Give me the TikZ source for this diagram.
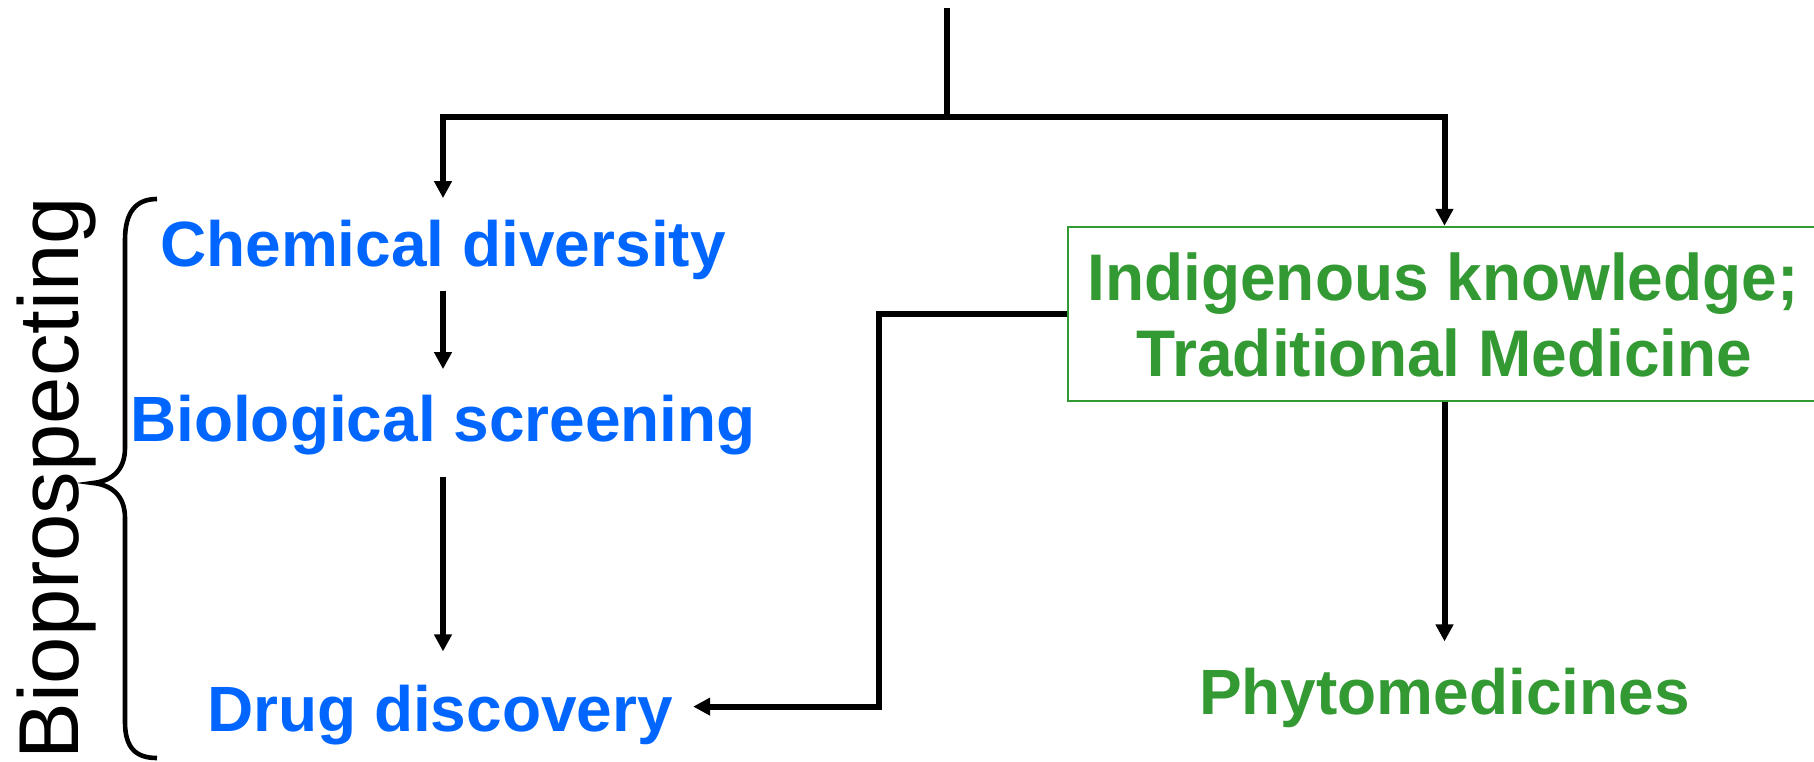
\documentclass[tikz,border=0pt]{standalone}
\usepackage{fontspec}
\setmainfont{Liberation Sans}
\usetikzlibrary{arrows.meta}

\definecolor{stepblue}{RGB}{0,102,255}
\definecolor{herbgreen}{RGB}{51,153,51}

\begin{document}
\begin{tikzpicture}[x=1pt,y=-1pt,
  bluetext/.style={font=\fontsize{64}{76}\selectfont\bfseries, text=stepblue, inner sep=0pt, anchor=base},
  greentext/.style={font=\fontsize{64}{76}\selectfont\bfseries, text=herbgreen, inner sep=0pt, anchor=base},
  link/.style={line width=6pt, line join=miter, draw=black},
  arr/.style={link, -{Triangle[length=17pt,width=17pt]}},
  tkbox/.style={draw=herbgreen, line width=1.8pt, fill=white, rectangle, inner sep=0pt}
]
\useasboundingbox (0,0) rectangle (1814,761);

% left column: bioprospecting chain
\node[bluetext] (chem) at (443,266.7) {Chemical diversity};
\node[bluetext] (bio) at (443,441.7) {Biological screening};
\node[bluetext] (drug) at (440,731) {Drug discovery};

% right column: traditional knowledge
\node[tkbox, minimum width=748pt, minimum height=174.3pt] (tk) at (1442,313.85) {};
\node[greentext, yscale=1.03] (tk1) at (1443,300) {Indigenous knowledge;};
\node[greentext, yscale=1.03] (tk2) at (1444.5,376.7) {Traditional Medicine};
\node[greentext] (phyto) at (1444.5,714) {Phytomedicines};

% bracket label
\node[font=\fontsize{85}{100}\selectfont, rotate=90, anchor=base, inner sep=0pt] (bp) at (78,478.5) {Bioprospecting};
\draw[line width=4.6pt] (157,199) .. controls (136,199) and (125,212) .. (125,240)
  -- (125,448) .. controls (125,470) and (112,481) .. (93,483)
  .. controls (112,485) and (125,496) .. (125,518)
  -- (125,722) .. controls (125,748) and (136,758) .. (157,758);

% top split
\coordinate (src) at (947.3,8);
\coordinate (j) at (947.3,116.7);
\draw[link] (src) -- (j);
\draw[arr] (j) -| ([yshift=22pt]chem.north);
\draw[arr] (j) -| (tk.north -| phyto.north);

% chain arrows
\draw[arr, shorten <=10.5pt, shorten >=26pt] (chem.south) -- (chem.south |- bio.north);
\draw[arr, shorten <=21.5pt, shorten >=33pt] (bio.south) -- (bio.south |- drug.north);

% knowledge feeds drug discovery and phytomedicines
\coordinate (dd) at ([xshift=20pt,yshift=8pt]drug.east);
\draw[arr] (tk.west) -- ++(-188,0) |- (dd);
\draw[arr, shorten >=26pt] (tk.south -| phyto.north) -- (phyto.north);
\end{tikzpicture}
\end{document}
